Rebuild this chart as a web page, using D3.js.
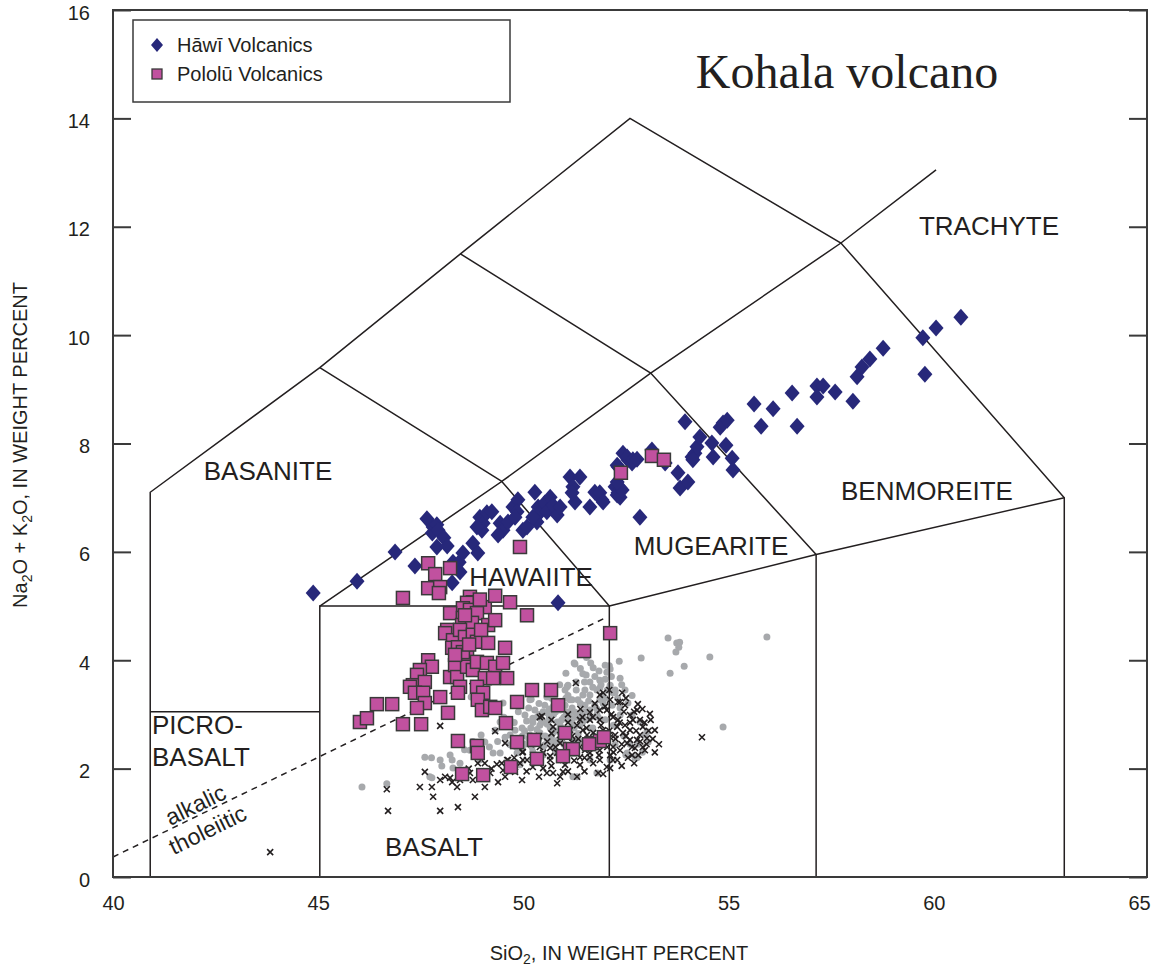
<!DOCTYPE html>
<html><head><meta charset="utf-8">
<script src="https://cdn.jsdelivr.net/npm/d3@7"></script>
<style>
html,body{margin:0;padding:0;background:#fff;}
svg{display:block;}
text{fill:#231f20;}
</style></head>
<body>
<svg id="c" width="1154" height="967" font-family="Arial, 'Liberation Sans', Helvetica, sans-serif"></svg>
<script>
// ---------- DATA ----------
const xTicks = [40,45,50,55,60,65];
const yTicks = [0,2,4,6,8,10,12,14,16];

// TAS field boundaries (SiO2, Na2O+K2O)
const fieldOuter = [[40.9,0],[40.9,7.1],[45,9.4],[48.4,11.5],[52.5,14],[57.6,11.7],[63,7],[63,0]];
const fieldPicro = [[40.9,3.05],[45,3.05]];
const fieldBasalt = [[45,0],[45,5],[52,5],[52,0]];
const fieldHawaiite = [[45,5],[49.4,7.3],[52,5]];
const fieldMugBen = [[52,5],[57,5.95],[63,7]];
const fieldAndesite = [[57,0],[57,5.95]];
const fieldTrachyLine = [[45,9.4],[49.4,7.3],[53,9.3],[57.6,11.7],[59.9,13.05]];
const fieldPhonoLine = [[48.4,11.5],[53,9.3],[57,5.95]];
const alkThol = [[40,0.37],[51.95,4.8]];

const hawi = [[44.84,5.24],[45.90,5.46],[46.82,6.00],[47.30,5.74],[47.59,6.61],[47.74,6.46],[47.72,6.35],[47.83,6.50],[47.86,6.40],[48.00,6.26],[47.83,6.09],[48.08,6.11],[48.22,5.81],[48.37,5.81],[48.46,5.98],[48.39,5.63],[48.20,5.43],[48.70,6.16],[48.82,5.98],[48.87,6.64],[48.95,6.53],[49.04,6.72],[49.16,6.74],[48.92,6.40],[48.80,6.46],[49.36,6.53],[49.43,6.40],[49.31,6.31],[49.55,6.55],[49.67,6.83],[49.79,6.96],[49.77,6.74],[49.72,6.64],[49.91,6.40],[50.01,6.46],[50.20,7.10],[50.28,6.83],[50.32,6.72],[50.44,6.90],[50.49,6.74],[50.25,6.55],[50.15,6.64],[50.57,7.01],[50.64,6.86],[50.74,6.68],[50.81,6.83],[51.05,7.38],[51.29,7.38],[51.12,7.20],[51.17,6.92],[51.10,7.09],[51.53,6.83],[51.65,7.10],[51.82,6.96],[51.77,7.09],[52.14,7.20],[52.19,7.05],[52.26,7.18],[52.21,7.57],[52.33,7.82],[52.45,7.70],[50.76,5.06],[51.85,6.92],[52.19,7.60],[52.43,7.75],[52.55,7.64],[52.57,7.70],[52.67,7.71],[52.21,7.09],[52.26,7.01],[52.31,7.14],[52.19,7.29],[52.74,6.64],[53.03,7.88],[53.35,7.64],[53.66,7.46],[53.71,7.18],[53.90,7.29],[53.83,8.40],[54.00,7.75],[54.07,7.82],[54.12,7.94],[54.02,7.70],[54.19,8.12],[54.48,8.01],[54.51,7.75],[54.68,8.30],[54.75,8.38],[54.85,8.43],[54.82,7.97],[54.97,7.73],[54.99,7.51],[55.50,8.73],[55.67,8.32],[55.96,8.64],[56.42,8.93],[56.54,8.32],[57.02,9.06],[57.17,9.06],[57.02,8.86],[57.46,8.95],[57.89,8.78],[57.99,9.23],[58.11,9.41],[58.30,9.56],[58.62,9.76],[59.58,9.95],[59.63,9.28],[59.90,10.13],[60.50,10.33]];

const pololu = [[49.84,6.09],[52.28,7.46],[53.03,7.77],[53.32,7.70],[47.62,5.79],[48.15,5.70],[47.79,5.59],[47.62,5.33],[47.91,5.35],[47.88,5.24],[47.01,5.15],[48.63,5.17],[48.70,5.07],[48.56,5.06],[48.46,4.96],[48.99,4.98],[49.24,5.19],[49.60,5.07],[50.01,4.83],[48.15,4.87],[48.46,4.78],[48.63,4.93],[48.80,4.87],[48.44,4.65],[48.68,4.69],[49.07,4.65],[49.24,4.74],[48.08,4.56],[48.03,4.50],[48.22,4.37],[48.39,4.56],[48.51,4.43],[48.70,4.47],[48.80,4.34],[49.07,4.32],[49.48,4.23],[48.20,4.23],[48.34,4.24],[48.56,4.06],[48.46,4.15],[47.62,4.00],[47.71,3.88],[47.42,3.82],[47.35,3.73],[47.25,3.54],[47.18,3.51],[47.54,3.60],[47.30,3.40],[47.50,3.40],[47.54,3.21],[47.35,3.12],[47.91,3.32],[48.15,3.69],[48.10,3.03],[48.27,3.91],[48.32,3.69],[48.56,3.88],[48.70,3.82],[48.80,3.97],[49.04,3.95],[49.24,3.88],[49.43,3.95],[48.99,3.67],[49.19,3.67],[49.53,3.67],[48.39,3.51],[48.34,3.40],[48.80,3.51],[48.95,3.40],[48.82,3.27],[48.92,3.08],[49.12,3.14],[49.24,3.12],[49.77,3.23],[50.13,3.45],[50.59,3.45],[50.76,3.17],[46.38,3.19],[46.75,3.19],[45.97,2.86],[46.14,2.93],[47.01,2.82],[47.45,2.82],[49.50,2.84],[48.34,2.51],[48.80,2.42],[48.82,2.29],[49.77,2.49],[50.18,2.53],[50.25,2.18],[49.62,2.03],[48.44,1.90],[48.95,1.88],[52.02,4.50],[51.39,4.17],[50.93,2.66],[51.05,2.36],[51.12,2.36],[51.58,2.47],[51.77,2.51],[51.87,2.58],[51.51,2.45],[50.88,2.23],[48.87,5.12],[48.51,4.83],[48.90,4.56],[48.61,4.29],[48.27,4.10]];

const otherGray = [[53.42,4.41],[53.63,4.32],[53.70,4.33],[53.68,4.24],[53.61,4.15],[54.43,4.06],[55.81,4.43],[53.81,3.89],[53.47,3.76],[52.77,4.04],[52.24,3.98],[54.75,2.77],[51.17,3.93],[50.95,3.76],[51.44,3.73],[51.94,3.78],[52.02,3.84],[52.26,3.67],[52.14,3.41],[52.45,3.21],[51.00,3.54],[51.10,3.27],[52.94,2.49],[52.67,2.20],[52.40,2.25],[51.12,1.85],[52.26,2.99],[50.98,3.51],[51.53,3.60],[51.70,3.45],[51.36,3.36],[51.24,3.27],[51.77,3.27],[51.05,3.27],[50.11,3.28],[49.43,3.21],[52.09,3.40],[52.26,3.12],[50.15,2.93],[50.57,2.90],[51.00,2.90],[51.36,2.95],[51.73,2.95],[49.89,2.75],[50.32,2.66],[50.64,2.66],[50.15,2.53],[50.49,2.56],[49.48,2.58],[49.89,2.40],[50.64,2.40],[49.36,2.29],[52.43,2.29],[52.62,2.20],[52.91,2.68],[51.22,1.85],[51.70,1.92],[50.15,2.31],[48.66,3.32],[50.08,3.27],[50.49,3.03],[50.74,2.86],[50.52,2.58],[50.69,2.49],[50.81,2.66],[50.40,2.40],[50.13,2.40],[49.77,2.29],[49.19,2.29],[48.87,2.16],[48.80,2.31],[48.39,2.10],[48.15,2.25],[48.20,2.16],[47.91,2.16],[47.54,2.21],[47.66,1.85],[46.62,1.72],[46.02,1.66],[49.84,2.07],[50.32,2.21],[47.95,2.05],[47.71,1.83],[48.22,2.01],[51.15,3.95],[51.36,3.75],[49.96,2.99],[50.20,3.08],[50.44,3.17],[50.69,3.27],[50.81,3.08],[50.93,3.17],[51.17,3.04],[51.41,3.17],[51.53,3.36],[51.65,3.17],[51.90,3.30],[52.02,3.54],[51.77,3.49],[51.53,3.08],[51.29,2.80],[51.05,2.71],[50.81,2.80],[50.57,2.75],[50.32,2.80],[50.08,2.62],[49.84,2.53],[49.60,2.44],[49.72,2.71],[50.44,2.44],[50.76,2.53],[51.17,2.53],[51.53,2.75],[51.90,2.90],[52.07,3.17],[52.14,3.45],[51.77,3.63],[51.61,3.86],[51.90,3.91],[51.41,3.45],[50.93,3.45],[50.49,3.32],[49.84,3.17],[49.60,2.90],[49.24,2.71],[48.99,2.49],[48.63,2.34],[49.36,2.86],[52.38,3.45],[52.55,2.99],[52.74,2.86],[52.86,2.62],[52.14,2.44],[51.77,2.44],[50.93,2.16],[51.53,2.16],[52.02,2.16],
[49.6,2.62],[49.7,2.85],[49.8,3.05],[49.95,2.45],[50.0,2.88],[50.05,3.12],[50.2,2.5],[50.25,2.72],[50.3,3.2],[50.35,2.9],[50.45,2.6],[50.5,2.82],[50.55,3.1],[50.6,2.48],[50.65,3.0],[50.7,2.7],[50.75,3.15],[50.85,2.9],[50.9,2.6],[50.95,3.05],[51.0,3.35],[51.05,2.95],[51.1,3.12],[51.15,2.75],[51.2,3.45],[51.25,3.0],[51.3,3.2],[51.35,2.85],[51.4,3.6],[51.45,3.05],[51.5,3.25],[51.55,2.95],[51.6,3.5],[51.65,3.7],[51.7,3.1],[51.75,3.8],[51.8,3.55],[51.85,3.2],[51.9,3.65],[51.95,3.45],[52.0,3.9],[52.05,3.7],[51.55,3.95],[51.3,3.85],[51.45,4.05],[50.8,3.55],[50.6,3.3],[50.3,3.0],[50.1,2.75],[49.9,2.6],[49.75,2.4],[50.4,2.25],[50.7,2.3],[51.0,2.6],[51.3,2.5],[51.6,2.75],[52.2,3.3],[52.3,3.55],[52.1,2.8],[52.35,2.6],[52.5,2.45],[52.7,2.45],[52.8,2.3],[52.55,3.35],[49.45,2.95],[49.3,2.5],[49.1,2.4],[48.9,2.62],[48.5,2.35],[47.7,2.2],[48.7,2.5],
[50.25,2.95],[50.55,2.95],[50.9,2.95],[51.2,2.95],[50.4,3.05],[50.7,3.05],[51.05,3.05],[51.35,3.05],[50.15,2.85],[50.45,2.85],[50.8,2.85],[51.1,2.85],[50.3,2.55],[50.6,2.58],[50.9,2.45],[51.25,2.65],[49.95,2.7],[51.45,2.9],[51.7,3.0],[51.85,3.35],[51.2,3.6],[50.95,3.3],[50.65,3.15],[50.05,2.55]];

const otherCross = [[51.19,3.58],[51.77,3.36],[51.85,3.40],[52.31,3.40],[52.26,3.23],[52.69,3.19],[52.98,3.01],[52.67,3.08],[50.32,2.95],[50.64,2.77],[51.22,2.80],[51.53,2.90],[51.94,3.08],[52.09,2.95],[52.57,2.90],[52.81,2.77],[52.50,2.71],[52.19,2.77],[51.85,2.71],[51.61,2.66],[51.36,2.71],[50.98,2.58],[50.81,2.47],[50.57,2.38],[50.40,2.29],[50.15,2.21],[50.01,2.16],[49.84,2.10],[49.67,2.03],[49.43,1.97],[49.55,2.16],[49.91,2.31],[50.32,2.40],[50.74,2.29],[50.88,2.16],[51.29,2.40],[51.53,2.29],[51.77,2.34],[52.09,2.40],[52.43,2.47],[52.67,2.53],[52.91,2.56],[52.81,2.40],[52.55,2.25],[52.19,2.16],[51.94,2.03],[51.61,2.10],[51.29,2.07],[51.53,2.21],[52.26,2.34],[52.02,2.58],[52.33,2.66],[52.21,2.90],[51.77,2.90],[51.46,2.62],[51.10,2.49],[50.64,1.92],[50.81,1.85],[50.88,1.94],[50.74,1.73],[49.89,1.79],[51.17,2.31],[51.73,1.92],[52.02,2.01],[52.09,2.16],[47.91,2.79],[49.24,2.69],[50.37,2.97],[49.48,2.47],[49.91,2.16],[50.15,2.03],[49.53,2.16],[49.28,2.08],[48.99,2.10],[49.12,1.92],[49.31,1.75],[48.99,1.66],[48.70,1.79],[48.82,2.10],[48.63,1.92],[48.39,1.79],[48.15,1.83],[47.91,1.79],[48.03,1.85],[48.32,1.66],[47.71,1.66],[47.42,1.66],[47.54,1.94],[46.62,1.62],[48.75,1.48],[47.74,1.48],[50.40,2.01],[50.57,2.16],[50.49,1.92],[46.65,1.22],[47.91,1.22],[48.34,1.29],[43.80,0.46],[52.21,3.23],[54.24,2.58],[51.22,1.85],[51.29,2.21],[50.81,2.62],[51.05,2.71],[51.29,2.90],[51.53,3.04],[52.02,3.27],[52.50,2.99],[52.74,2.90],[52.38,2.80],[52.14,2.62],[51.90,2.53],[51.65,2.44],[51.41,2.34],[50.93,2.07],[50.20,2.12],[49.72,1.94],[49.48,1.85],[51.77,2.16],[52.02,2.25],[52.50,2.53],[52.74,2.62],[53.10,2.71],[52.86,2.34],[52.62,2.38],[51.05,2.38],[50.57,2.23],[52.38,3.17],[51.77,3.08],
[50.5,2.5],[50.6,2.65],[50.7,2.4],[50.85,2.7],[50.95,2.3],[51.0,2.85],[51.1,2.6],[51.15,2.15],[51.25,2.55],[51.35,2.95],[51.4,2.2],[51.45,2.75],[51.55,2.5],[51.6,2.95],[51.7,2.6],[51.75,2.25],[51.8,2.8],[51.9,3.15],[51.95,2.4],[52.0,2.7],[52.05,3.0],[52.1,2.3],[52.15,2.55],[52.25,2.85],[52.3,2.45],[52.35,3.05],[52.4,2.6],[52.45,2.2],[52.5,2.85],[52.55,2.4],[52.6,3.05],[52.65,2.7],[52.7,2.25],[52.75,2.5],[52.85,2.85],[52.9,2.45],[52.95,2.7],[53.05,2.55],[53.0,2.9],[52.8,3.1],[52.4,3.3],[52.0,3.45],[51.65,3.2],[51.3,3.1],[51.0,3.0],[50.6,2.9],[50.3,2.6],[50.1,2.45],[49.9,2.3],[49.7,2.2],[49.4,2.1],[49.15,2.0],[48.9,1.95],[48.6,2.0],[48.45,1.9],[48.2,1.75],[50.0,1.95],[50.3,1.85],[50.6,2.05],[51.0,1.95],[51.4,1.95],[51.85,1.9],[52.3,2.05],[52.6,2.1],[53.1,2.3],[53.2,2.45]];

// ---------- DRAW ----------
const svg = d3.select("#c");
const x = d3.scaleLinear().domain([40,65]).range([113,1147]);
const y = d3.scaleLinear().domain([0,16]).range([877,10]);
const line = d3.line().x(d=>x(d[0])).y(d=>y(d[1]));

// gray dots
svg.append("g").selectAll("circle").data(otherGray).join("circle")
  .attr("cx",d=>x(d[0])).attr("cy",d=>y(d[1])).attr("r",3.5).attr("fill","#a7a9ac");
// crosses
svg.append("g").selectAll("path").data(otherCross).join("path")
  .attr("transform",d=>`translate(${x(d[0])},${y(d[1])})`)
  .attr("d","M-3,-3L3,3M-3,3L3,-3")
  .attr("stroke","#231f20").attr("stroke-width",1.6).attr("fill","none");

// fields
const fg = svg.append("g").attr("fill","none").attr("stroke","#231f20").attr("stroke-width",1.5);
[fieldOuter,fieldPicro,fieldBasalt,fieldHawaiite,fieldMugBen,fieldAndesite,fieldTrachyLine,fieldPhonoLine]
  .forEach(f=>fg.append("path").attr("d",line(f)));
fg.append("path").attr("d",line(alkThol)).attr("stroke-dasharray","6,5").attr("stroke-width",1.5);

// frame
svg.append("rect").attr("x",x(40)).attr("y",y(16)).attr("width",x(65)-x(40)).attr("height",y(0)-y(16))
  .attr("fill","none").attr("stroke","#3a3a3a").attr("stroke-width",2);

// axes
const gl = svg.append("g").attr("transform",`translate(${x(40)},0)`)
  .call(d3.axisLeft(y).tickValues(yTicks).tickFormat(d3.format("d")).tickSize(-18).tickPadding(23));
const gr = svg.append("g").attr("transform",`translate(${x(65)},0)`)
  .call(d3.axisRight(y).tickValues(yTicks).tickSize(-18).tickFormat(""));
const gb = svg.append("g").attr("transform",`translate(0,${y(0)})`)
  .call(d3.axisBottom(x).tickValues(xTicks).tickFormat(d3.format("d")).tickSize(0).tickPadding(19));
[gl,gr,gb].forEach(g=>{
  g.attr("font-family",null).attr("font-size",null);
  g.select(".domain").remove();
  g.selectAll(".tick line").attr("stroke","#3a3a3a").attr("stroke-width",2);
  g.selectAll("text").attr("font-size",20).attr("fill","#231f20");
});
gl.selectAll("text").attr("dy","0.45em");
gb.selectAll("text").attr("dx",d=>-(d-40)/25*8);

// axis titles
const xt = svg.append("text").attr("x",619).attr("y",960).attr("text-anchor","middle").attr("font-size",20);
xt.append("tspan").text("SiO");
xt.append("tspan").text("2").attr("font-size",14).attr("dy",4);
xt.append("tspan").text(", IN WEIGHT PERCENT").attr("dy",-4);

const yt = svg.append("text").attr("transform","translate(27,445) rotate(-90)").attr("text-anchor","middle").attr("font-size",20);
yt.append("tspan").text("Na");
yt.append("tspan").text("2").attr("font-size",14).attr("dy",5);
yt.append("tspan").text("O + K").attr("dy",-5);
yt.append("tspan").text("2").attr("font-size",14).attr("dy",5);
yt.append("tspan").text("O, IN WEIGHT PERCENT").attr("dy",-5);

// field labels
const lab = [
  {t:"BASANITE",x:268,y:480,a:"middle"},
  {t:"HAWAIITE",x:531,y:586,a:"middle"},
  {t:"MUGEARITE",x:711,y:555,a:"middle"},
  {t:"BENMOREITE",x:927,y:500,a:"middle"},
  {t:"TRACHYTE",x:989,y:235,a:"middle"},
  {t:"PICRO-",x:152,y:734,a:"start"},
  {t:"BASALT",x:152,y:766,a:"start"},
  {t:"BASALT",x:434,y:856,a:"middle"}
];
svg.append("g").selectAll("text").data(lab).join("text")
  .attr("x",d=>d.x).attr("y",d=>d.y).attr("text-anchor",d=>d.a).attr("font-size",26).text(d=>d.t);

svg.append("text").attr("transform","translate(199,812) rotate(-26)").attr("text-anchor","middle").attr("font-size",23).text("alkalic");
svg.append("text").attr("transform","translate(211,837) rotate(-26)").attr("text-anchor","middle").attr("font-size",23).text("tholeiitic");

svg.append("text").attr("x",847).attr("y",88).attr("text-anchor","middle")
  .style("font-family","'Liberation Serif','Times New Roman',Times,serif").attr("font-size",48).text("Kohala volcano");

// markers
const diamond = "M0,-8.5L7.5,0L0,8.5L-7.5,0Z";
svg.append("g").selectAll("path").data(hawi).join("path")
  .attr("transform",d=>`translate(${x(d[0])},${y(d[1])})`).attr("d",diamond).attr("fill","#27287a");
svg.append("g").selectAll("rect").data(pololu).join("rect")
  .attr("x",d=>x(d[0])-6.5).attr("y",d=>y(d[1])-6.5).attr("width",13).attr("height",13)
  .attr("fill","#c1519f").attr("stroke","#3a3a3a").attr("stroke-width",1.5);

// legend
const lg = svg.append("g");
lg.append("rect").attr("x",133).attr("y",20).attr("width",377).attr("height",82).attr("fill","#fff").attr("stroke","#3a3a3a").attr("stroke-width",1.5);
lg.append("path").attr("transform","translate(157,45)").attr("d","M0,-7L6,0L0,7L-6,0Z").attr("fill","#27287a");
lg.append("rect").attr("x",152).attr("y",69).attr("width",10).attr("height",10).attr("fill","#c1519f").attr("stroke","#3a3a3a").attr("stroke-width",1.3);
lg.append("text").attr("x",177).attr("y",52).attr("font-size",20).text("Hāwī Volcanics");
lg.append("text").attr("x",177).attr("y",81).attr("font-size",20).text("Pololū Volcanics");
</script>
</body></html>
